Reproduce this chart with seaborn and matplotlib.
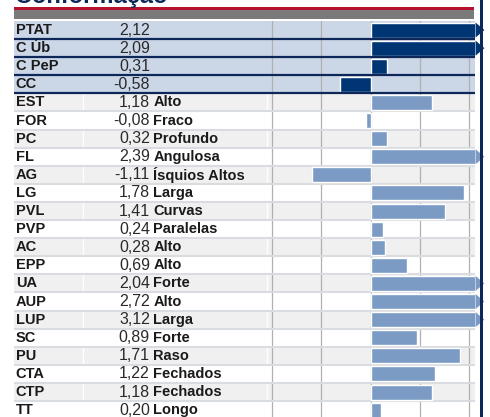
"""Conformação scorecard: summary rows on top, trait rows below."""

import matplotlib.pyplot as plt
import numpy as np
import seaborn as sns
from matplotlib.patches import Rectangle

# data
labels = ["PTAT", "C Úb", "C PeP", "CC", "EST", "FOR", "PC", "FL", "AG", "LG",
          "PVL", "PVP", "AC", "EPP", "UA", "AUP", "LUP", "SC", "PU", "CTA",
          "CTP", "TT"]
values = [2.12, 2.09, 0.31, -0.58, 1.18, -0.08, 0.32, 2.39, -1.11, 1.78,
          1.41, 0.24, 0.28, 0.69, 2.04, 2.72, 3.12, 0.89, 1.71, 1.22,
          1.18, 0.20]
descriptions = ["", "", "", "", "Alto", "Fraco", "Profundo", "Angulosa",
                "Ísquios Altos", "Larga", "Curvas", "Paralelas", "Alto", "Alto",
                "Forte", "Alto", "Larga", "Forte", "Raso", "Fechados",
                "Fechados", "Longo"]
n_summary = 4          # first rows are the summary block
clip_at = 2.0          # bars longer than this get an arrow head
grid_x = [-1.88, -0.94, 0.0, 0.94, 1.88]

NAVY = "#003574"
NAVY_LINE = "#0d2759"
STEEL = "#7b9bc4"
SUMMARY_BG = "#cbd6e7"
GRAY_BG = "#f0f0f0"
SEP = "#d9dce1"

sns.set_theme(style="white")
plt.rcParams["font.family"] = ["Liberation Sans", "DejaVu Sans"]

W, H = 490, 417
fig = plt.figure(figsize=(W / 100, H / 100), dpi=100)
ax = fig.add_axes([14 / W, 0, (475 - 14) / W, (H - 21) / H])

n = len(labels)
clipped = np.minimum(values, clip_at)
colors = [NAVY if i < n_summary else STEEL for i in range(n)]

# row backgrounds
for i in range(n):
    if i < n_summary:
        ax.axhspan(i - 0.5, i + 0.5, color=SUMMARY_BG, lw=0, zorder=0.6)
    elif (i - n_summary) % 2 == 0:
        ax.axhspan(i - 0.5, i + 0.5, color=GRAY_BG, lw=0, zorder=0.2)
for xf in [0.150, 0.549]:
    ax.axvline(-6.79 + xf * 8.78, color="white", lw=1.0, zorder=0.4)

for gx in grid_x:
    ax.axvline(gx, color="#b0b0b0", lw=0.9, zorder=1)

sns.barplot(x=clipped, y=labels, hue=labels, palette=colors, orient="h",
            width=0.83, legend=False, saturation=1, ax=ax, zorder=3)

# arrow heads for clipped bars
for i, v in enumerate(values):
    if v > clip_at:
        ax.fill([clip_at, clip_at + 0.17, clip_at], [i - 0.415, i, i + 0.415],
                color=colors[i], lw=0, zorder=4, clip_on=False)

# row separators
for i in range(n - 1):
    if i < n_summary:
        ax.axhline(i + 0.5, color=NAVY_LINE, lw=1.6, zorder=5)
    else:
        ax.axhline(i + 0.5, color=SEP, lw=1.5, zorder=2)

# text columns
tr = ax.get_yaxis_transform()
for i, (lab, v, d) in enumerate(zip(labels, values, descriptions)):
    ax.text(0.004, i, lab, transform=tr, ha="left", va="center",
            fontsize=10.5, fontweight="bold", color="#1a1a1a", zorder=6)
    ax.text(0.295, i, f"{v:.2f}".replace(".", ","), transform=tr, ha="right",
            va="center", fontsize=11.5, color="#2a2a2a", zorder=6)
    if d:
        ax.text(0.302, i, d, transform=tr, ha="left", va="center",
                fontsize=10.5, fontweight="bold", color="#1a1a1a", zorder=6)

ax.set_xlim(-6.79, 1.99)
ax.set_ylim(21.38, -0.5)
ax.set_xlabel("")
ax.set_ylabel("")
ax.set_xticks([])
ax.set_yticks([])
for s in ax.spines.values():
    s.set_visible(False)

# header strip and title (title sits mostly above the top edge)
fig.patches.append(Rectangle((14 / W, 1 - 9.6 / H), 460 / W, 2.6 / H,
                             transform=fig.transFigure, color="#b5122e", lw=0))
fig.patches.append(Rectangle((14 / W, 1 - 19.3 / H), 460 / W, 9.7 / H,
                             transform=fig.transFigure, color="#7a7a7a", lw=0))
fig.patches.append(Rectangle((480 / W, 0), 3.3 / W, 1,
                             transform=fig.transFigure, color=NAVY_LINE, lw=0,
                             zorder=5))
fig.text(15 / W, 1 - 3 / H, "Conformação", ha="left", va="baseline",
         fontsize=17, fontweight="bold", color=NAVY_LINE)

fig.savefig("out.png", dpi=100)
